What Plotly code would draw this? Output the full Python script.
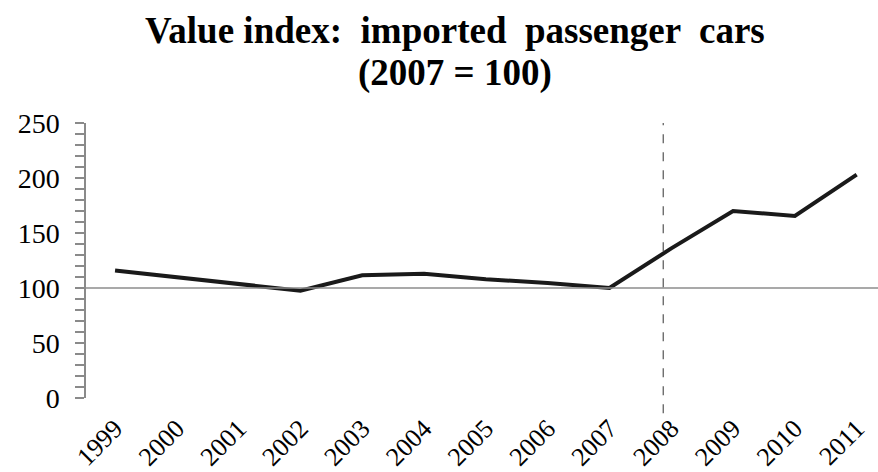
import plotly.graph_objects as go

years = [1999, 2000, 2001, 2002, 2003, 2004, 2005, 2006, 2007, 2008, 2009, 2010, 2011]
values = [116, 110, 104, 97.5, 111.5, 113, 108, 104.5, 100, 136, 170, 165.5, 203]
tick_labels = [str(y) for y in years]
title_line1 = "Value index:  imported  passenger  cars"
title_line2 = "(2007 = 100)"
base_value = 100
break_year = 2007.87

x_range = [1998.53, 2011.345]
y_range = [0, 250]

fig = go.Figure()
fig.add_trace(go.Scatter(
    x=years, y=values, mode="lines",
    line=dict(color="#1a1a1a", width=4),
    hoverinfo="skip", showlegend=False,
))

serif = "Liberation Serif, Times New Roman, serif"

fig.update_layout(
    width=878, height=472,
    margin=dict(l=86, r=0, t=123, b=74, autoexpand=False),
    paper_bgcolor="white", plot_bgcolor="white",
    font=dict(family=serif, color="black"),
    xaxis=dict(
        range=x_range, tickmode="array", tickvals=years, ticktext=tick_labels,
        tickangle=-45, showgrid=False, zeroline=False, showline=False,
        ticks="outside", ticklen=4, tickcolor="rgba(0,0,0,0)",
        tickfont=dict(family=serif, size=26, color="black"),
        automargin=False,
    ),
    yaxis=dict(
        range=y_range, dtick=50, tick0=0, showgrid=False, zeroline=False,
        showline=True, linecolor="#8a8a8a", linewidth=1.5,
        ticks="outside", ticklen=9, tickcolor="#8a8a8a", tickwidth=1.5,
        minor=dict(dtick=10, ticks="outside", ticklen=9, tickcolor="#8a8a8a", tickwidth=1.5),
        tickfont=dict(family=serif, size=28, color="black"),
        ticklabelstandoff=10,
        automargin=False,
    ),
)

fig.add_annotation(text="<b>" + title_line1 + "</b>", xref="paper", yref="paper",
                   x=0.466, y=1.335, xanchor="center", yanchor="middle", showarrow=False,
                   font=dict(family=serif, size=37, color="black"))
fig.add_annotation(text="<b>" + title_line2 + "</b>", xref="paper", yref="paper",
                   x=0.466, y=1.183, xanchor="center", yanchor="middle", showarrow=False,
                   font=dict(family=serif, size=37, color="black"))

fig.add_shape(type="line", xref="paper", yref="y", x0=0, x1=1,
              y0=base_value, y1=base_value, line=dict(color="#8c8c8c", width=1.5))

bx = (break_year - x_range[0]) / (x_range[1] - x_range[0])
fig.add_shape(type="line", xref="paper", yref="paper", x0=bx, x1=bx,
              y0=-0.055, y1=1.0, line=dict(color="#555555", width=1.2, dash="dash"))

fig.write_html("out.html")
